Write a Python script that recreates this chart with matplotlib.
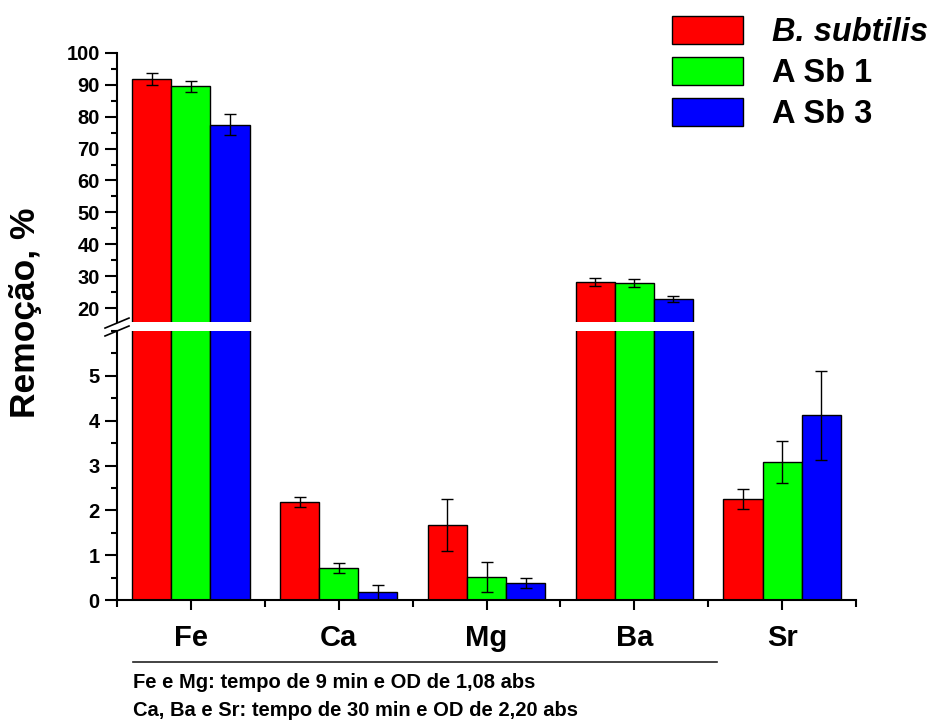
"""Remoção de metais por B. subtilis e isolados A Sb — barras com eixo y interrompido."""
import matplotlib
matplotlib.use("Agg")
import matplotlib.pyplot as plt
from matplotlib.lines import Line2D
from matplotlib.ticker import MultipleLocator
import numpy as np

plt.rcParams.update({
    "font.family": "Liberation Sans",
    "font.weight": "bold",
    "axes.linewidth": 1.5,
})

elements = ["Fe", "Ca", "Mg", "Ba", "Sr"]
series = ["B. subtilis", "A Sb 1", "A Sb 3"]
bsub = [91.8, 2.19, 1.67, 28.2, 2.25]
bsub_err = [2.0, 0.11, 0.58, 1.25, 0.23]
asb1 = [89.5, 0.72, 0.51, 27.8, 3.07]
asb1_err = [1.7, 0.11, 0.33, 1.25, 0.47]
asb3 = [77.5, 0.17, 0.38, 23.0, 4.12]
asb3_err = [3.4, 0.17, 0.12, 0.9, 0.99]
notes = ["Fe e Mg: tempo de 9 min e OD de 1,08 abs",
         "Ca, Ba e Sr: tempo de 30 min e OD de 2,20 abs"]

colors = ["#ff0000", "#00ff00", "#0000ff"]
W, H = 939, 725

fig = plt.figure(figsize=(W / 100, H / 100), dpi=100)
ax_hi = fig.add_axes([117 / W, 1 - 322 / H, 739 / W, (322 - 52.7) / H])
ax_lo = fig.add_axes([117 / W, 1 - 600 / H, 739 / W, (600 - 331) / H])

x = np.arange(len(elements))
width = 0.265
vals = [bsub, asb1, asb3]
errs = [bsub_err, asb1_err, asb3_err]

handles = []
for ax in (ax_hi, ax_lo):
    for i, (v, e) in enumerate(zip(vals, errs)):
        b = ax.bar(x + (i - 1) * width, v, width, color=colors[i],
                   edgecolor="black", lw=1.0, label=series[i], zorder=2)
        ax.errorbar(x + (i - 1) * width, v, yerr=e, fmt="none", ecolor="black",
                    elinewidth=1.0, capsize=4.5, capthick=1.0, zorder=3)
        if ax is ax_lo:
            handles.append(b)
    ax.set_xlim(-0.5, 4.5)
    ax.spines["top"].set_visible(False)
    ax.spines["right"].set_visible(False)
    ax.tick_params(axis="y", which="major", direction="out", length=8.5, width=1.5,
                   labelsize=14.5, pad=4)
    ax.tick_params(axis="y", which="minor", direction="out", length=4.5, width=1.5)

ax_hi.set_ylim(15.7, 100)
ax_hi.set_yticks(np.arange(20, 101, 10))
ax_hi.yaxis.set_minor_locator(MultipleLocator(5))
ax_hi.spines["bottom"].set_visible(False)
ax_hi.tick_params(axis="x", which="both", bottom=False, labelbottom=False)

ax_lo.set_ylim(0, 6)
ax_lo.set_yticks(np.arange(0, 6, 1))
ax_lo.yaxis.set_minor_locator(MultipleLocator(0.5))
ax_lo.set_xticks(x)
ax_lo.set_xticklabels(elements, fontsize=21)
ax_lo.xaxis.set_minor_locator(MultipleLocator(0.5))
ax_lo.tick_params(axis="x", which="major", direction="out", length=7, width=1.5, pad=10)
ax_lo.tick_params(axis="x", which="minor", direction="out", length=5, width=1.5)

# marcas de quebra do eixo
dx, dy = 12 / 739, 5 / 269
ax_hi.plot([-dx, dx], [-dy - 0.004, dy - 0.004], transform=ax_hi.transAxes,
           color="black", lw=1.2, clip_on=False)
ax_lo.plot([-dx, dx], [1 - dy, 1 + dy], transform=ax_lo.transAxes,
           color="black", lw=1.2, clip_on=False)

fig.text(26 / W, 1 - 313 / H, "Remoção, %", rotation=90, ha="center", va="center",
         fontsize=25.5, fontweight="bold")

leg = fig.legend(handles=handles, labels=series, loc="upper left",
                 bbox_to_anchor=(672 / W, 1 - 16 / H), frameon=False, fontsize=23.5,
                 handlelength=2.18, handleheight=0.93, handletextpad=0.89,
                 labelspacing=0.27, borderpad=0, borderaxespad=0)
leg.get_texts()[0].set_fontstyle("italic")

fig.add_artist(Line2D([133 / W, 717 / W], [1 - 662 / H, 1 - 662 / H],
                      transform=fig.transFigure, color="#222222", lw=1.2))
fig.text(133 / W, 1 - 683 / H, notes[0], ha="left", va="center", fontsize=14.5)
fig.text(133 / W, 1 - 711 / H, notes[1], ha="left", va="center", fontsize=14.5)

fig.savefig("out.png", dpi=100)
